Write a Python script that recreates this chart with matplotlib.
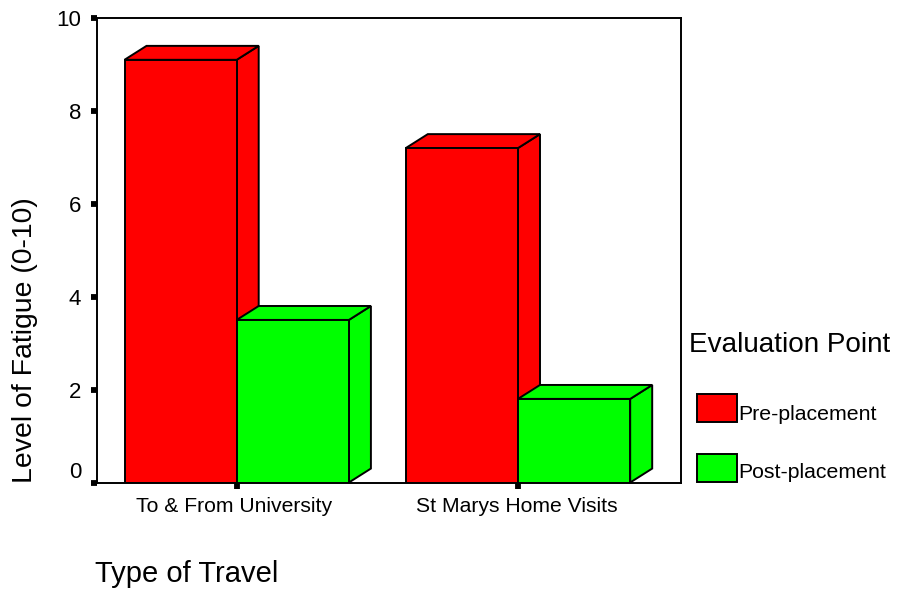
import matplotlib
matplotlib.use("Agg")
import matplotlib.pyplot as plt
from matplotlib.patches import Polygon, Rectangle
from matplotlib.transforms import ScaledTranslation

plt.rcParams['font.family'] = ['Liberation Sans', 'DejaVu Sans']

categories = ['To & From University', 'St Marys Home Visits']
pre_placement = [9.1, 7.2]
post_placement = [3.5, 1.8]
series_names = ['Pre-placement', 'Post-placement']
series_colors = ['#ff0000', '#00ff00']
yticks = [0, 2, 4, 6, 8, 10]

W, H = 898, 590
fig = plt.figure(figsize=(W / 100, H / 100), dpi=100, facecolor='white')

# plot frame in pixels: x 96.5-681, y 18-482.5
ax = fig.add_axes([96.5 / W, 1 - 482.5 / H, (681 - 96.5) / W, (482.5 - 18) / H])
ax.set_xlim(96.5, 681)
ax.set_ylim(0, 10)
ax.set_yticks(yticks)
ax.tick_params(axis='both', length=4, width=4.2, labelsize=16, pad=7)
for s in ax.spines.values():
    s.set_linewidth(1.4)

# the 0 label sits above its tick in the original
zero = ax.get_yticklabels()[0]
zero.set_transform(zero.get_transform() + ScaledTranslation(0, 13 / 100, fig.dpi_scale_trans))

bar_w = 112.2
dx, dy = 22, 0.3
starts = [124.5, 405.8]
ax.set_xticks([x + bar_w for x in starts])
ax.set_xticklabels([])


def bar3d(x, v, color, z):
    # side and top faces first, then the front
    side = [(x + bar_w, 0), (x + bar_w + dx, dy), (x + bar_w + dx, v + dy), (x + bar_w, v)]
    top = [(x, v), (x + dx, v + dy), (x + bar_w + dx, v + dy), (x + bar_w, v)]
    ax.add_patch(Polygon(side, fc=color, ec='black', lw=1.4, zorder=z))
    ax.add_patch(Polygon(top, fc=color, ec='black', lw=1.4, zorder=z))
    ax.add_patch(Rectangle((x, 0), bar_w, v, fc=color, ec='black', lw=1.4, zorder=z + 0.5))


for i, x in enumerate(starts):
    bar3d(x, pre_placement[i], series_colors[0], 2 + i * 2)
    bar3d(x + bar_w, post_placement[i], series_colors[1], 3 + i * 2)

fig.text(234 / W, 1 - 507 / H, categories[0], fontsize=15.2, ha='center', va='center')
fig.text(517 / W, 1 - 507 / H, categories[1], fontsize=15.2, ha='center', va='center')

fig.text(25.5 / W, 1 - 340.5 / H, 'Level of Fatigue (0-10)', fontsize=20.4, rotation=90,
         ha='center', va='center')
fig.text(95 / W, 1 - 574 / H, 'Type of Travel', fontsize=21, va='center')
fig.text(689 / W, 1 - 345 / H, 'Evaluation Point', fontsize=20.1, va='center')

# legend swatches
for name, color, y, ty in zip(series_names, series_colors, [394, 454], [415, 473]):
    fig.add_artist(Rectangle((696.5 / W, 1 - (y + 28) / H), 40 / W, 28 / H, fc=color, ec='black',
                             lw=1.4, transform=fig.transFigure))
    fig.text(738 / W, 1 - ty / H, name, fontsize=15.3, va='center')

fig.savefig('out.png', dpi=100)
